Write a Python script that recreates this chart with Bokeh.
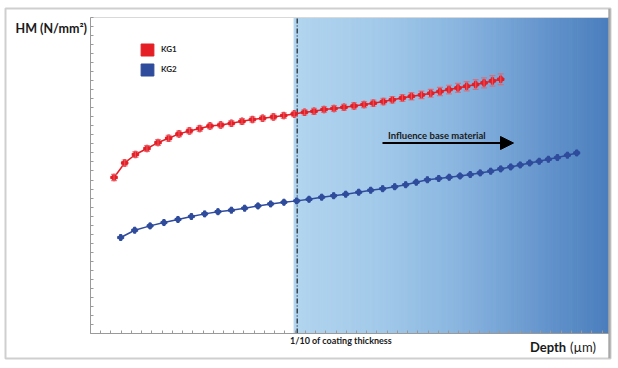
import numpy as np
from bokeh.plotting import figure
from bokeh.models import (Range1d, SingleIntervalTicker, ColumnDataSource, Whisker, TeeHead,
                          Label, Arrow, NormalHead, Legend, LegendItem)
from bokeh.embed import file_html
from bokeh.resources import INLINE

# ---------------- data ----------------
kg1_depth = [0.230, 0.334, 0.439, 0.552, 0.660, 0.764, 0.865, 0.967, 1.067, 1.168,
             1.273, 1.377, 1.481, 1.583, 1.683, 1.788, 1.889, 1.991, 2.092, 2.185,
             2.283, 2.380, 2.478, 2.576, 2.674, 2.765, 2.863, 2.951, 3.049, 3.137,
             3.235, 3.326, 3.416, 3.504, 3.592, 3.677, 3.765, 3.847, 3.929, 4.010]
kg1_hm = [1728, 1889, 1983, 2049, 2115, 2163, 2211, 2244, 2270, 2299,
          2310, 2329, 2351, 2370, 2385, 2399, 2414, 2432, 2451, 2462,
          2481, 2492, 2506, 2521, 2536, 2551, 2569, 2589, 2609, 2628,
          2643, 2661, 2680, 2702, 2720, 2739, 2758, 2776, 2798, 2816]
kg1_err = [35, 33, 33, 32, 32, 32, 31, 31, 30, 30,
           30, 30, 30, 30, 30, 30, 30, 30, 30, 31,
           31, 32, 32, 33, 33, 34, 35, 36, 38, 40,
           42, 44, 46, 48, 50, 52, 54, 56, 58, 60]

kg2_depth = [0.295, 0.432, 0.582, 0.718, 0.855, 0.986, 1.116, 1.246, 1.377, 1.507,
             1.637, 1.761, 1.891, 2.016, 2.136, 2.260, 2.377, 2.495, 2.622, 2.739,
             2.856, 2.974, 3.081, 3.184, 3.293, 3.404, 3.506, 3.612, 3.712, 3.809,
             3.912, 4.010, 4.108, 4.200, 4.293, 4.386, 4.476, 4.564, 4.662, 4.753]
kg2_hm = [1063, 1144, 1192, 1229, 1263, 1296, 1325, 1349, 1366, 1388,
          1413, 1435, 1454, 1469, 1487, 1510, 1526, 1543, 1565, 1587,
          1604, 1626, 1648, 1676, 1703, 1717, 1731, 1745, 1761, 1779,
          1798, 1823, 1845, 1867, 1889, 1908, 1930, 1949, 1975, 2000]

series_names = ["KG1", "KG2"]
coating_limit = 2.02      # 1/10 of coating thickness
base_start = 1.99         # start of base-material influence zone
x_max = 5.064             # end of plot area (µm)
y_max = 3500              # top of plot area (N/mm²)

RED = "#e51e25"
BLUE = "#2f4b9c"
FONT = "Lato"
TXT = "#1a1a1a"

# ---------------- figure ----------------
# frame == outer box; plot area is placed inside by the ranges
p = figure(width=612, height=360, output_backend="svg", toolbar_location=None, title=None,
           x_range=Range1d(-0.831, 5.083), y_range=Range1d(-277, 3600),
           min_border_left=5, min_border_right=2, min_border_top=8, min_border_bottom=2)
p.background_fill_color = "white"
p.border_fill_color = "white"
p.outline_line_color = "#cfcfcf"
p.outline_line_width = 2
p.grid.visible = False

for ax in (p.xaxis[0], p.yaxis[0]):
    ax.fixed_location = 0
    ax.axis_line_color = "#9a9a9a"
    ax.major_tick_line_color = "#9a9a9a"
    ax.major_tick_in = 3
    ax.major_tick_out = 0
    ax.minor_tick_line_color = None
    ax.major_label_text_font_size = "0px"
    ax.major_label_text_color = None
    ax.major_label_standoff = 0
p.xaxis[0].ticker = SingleIntervalTicker(interval=0.1, num_minor_ticks=0)
p.yaxis[0].ticker = SingleIntervalTicker(interval=100, num_minor_ticks=0)
p.xaxis[0].bounds = (0, x_max)
p.yaxis[0].bounds = (0, y_max)

# ---------------- base-material gradient ----------------
n = 120
edges = np.linspace(base_start, x_max, n + 1)
stop_x = [base_start, 2.8, 3.6, 4.3, x_max]
stop_c = [(178, 213, 239), (163, 202, 234), (137, 181, 223), (107, 154, 208), (74, 126, 189)]
mids = (edges[:-1] + edges[1:]) / 2
cols = []
for m in mids:
    rgb = [np.interp(m, stop_x, [c[i] for c in stop_c]) for i in range(3)]
    cols.append("#%02x%02x%02x" % tuple(int(round(v)) for v in rgb))
p.quad(left=edges[:-1], right=edges[1:], bottom=0, top=y_max,
       fill_color=cols, line_color=cols, line_width=1)

# top edge of the plot area and dark right border of the box
p.line(x=[0, x_max], y=[y_max, y_max], line_color="#d9d9d9", line_width=1)
p.line(x=[5.076, 5.076], y=[-277, 3600], line_color="#a8a8a8", line_width=3)

# 1/10 coating thickness marker
p.line(x=[coating_limit, coating_limit], y=[0, y_max], line_color="black",
       line_width=1, line_dash="5 2 1 2")

# ---------------- series ----------------
src1 = ColumnDataSource(dict(x=kg1_depth, y=kg1_hm,
                             lo=[h - e for h, e in zip(kg1_hm, kg1_err)],
                             hi=[h + e for h, e in zip(kg1_hm, kg1_err)]))
src2 = ColumnDataSource(dict(x=kg2_depth, y=kg2_hm))

p.line("x", "y", source=src1, line_color=RED, line_width=1.5)
p.scatter("x", "y", source=src1, marker="plus", size=6.5, fill_color=RED, line_color=RED)
p.scatter("x", "y", source=src1, marker="circle", size=4.5, fill_color=RED, line_color=RED)

p.add_layout(Whisker(source=src1, base="x", lower="lo", upper="hi", level="annotation",
                     line_color="#e8606a", line_alpha=0.75, line_width=1.2,
                     upper_head=TeeHead(size=6, line_color="#e8606a", line_alpha=0.75, line_width=1.2),
                     lower_head=TeeHead(size=6, line_color="#e8606a", line_alpha=0.75, line_width=1.2)))

p.line("x", "y", source=src2, line_color=BLUE, line_width=1.5)
p.scatter("x", "y", source=src2, marker="plus", size=6, fill_color=BLUE, line_color=BLUE)
p.scatter("x", "y", source=src2, marker="circle", size=4.5, fill_color=BLUE, line_color=BLUE)

# ---------------- legend (filled squares) ----------------
leg1 = p.quad(left="x", right="x", bottom="y", top="y", source=src1,
              fill_color=RED, line_color=RED, visible=False)
leg2 = p.quad(left="x", right="x", bottom="y", top="y", source=src2,
              fill_color=BLUE, line_color=BLUE, visible=False)
legend = Legend(items=[LegendItem(label=series_names[0], renderers=[leg1]),
                       LegendItem(label=series_names[1], renderers=[leg2])],
                location=(134, 281.5), glyph_width=16, glyph_height=15, spacing=5,
                padding=0, margin=0, border_line_color=None, background_fill_alpha=0,
                inactive_fill_alpha=0,
                label_text_font=FONT, label_text_font_style="bold",
                label_text_font_size="8px", label_text_color="#222222",
                label_standoff=6, label_height=15)
p.add_layout(legend)

# ---------------- texts ----------------
def lab(x, y, text, size, style="bold", align="left"):
    p.add_layout(Label(x=x, y=y, x_units="screen", y_units="screen", text=text,
                       text_font=FONT, text_font_size=size, text_font_style=style,
                       text_color=TXT, text_baseline="middle", text_align=align))

lab(10, 330, "HM (N/mm²)", "12.5px")
lab(524.5, 12, "Depth", "13px")
lab(564.5, 12, "(µm)", "13px", style="normal")
lab(284.5, 18, "1/10 of coating thickness", "9px")
lab(382.5, 223.5, "Influence base material", "9.5px")

p.add_layout(Arrow(x_start=377, y_start=215.5, x_end=508, y_end=215.5,
                   start_units="screen", end_units="screen",
                   line_color="black", line_width=2,
                   end=NormalHead(size=13, fill_color="black", line_color="black")))

open("out.html", "w").write(file_html(p, INLINE))
